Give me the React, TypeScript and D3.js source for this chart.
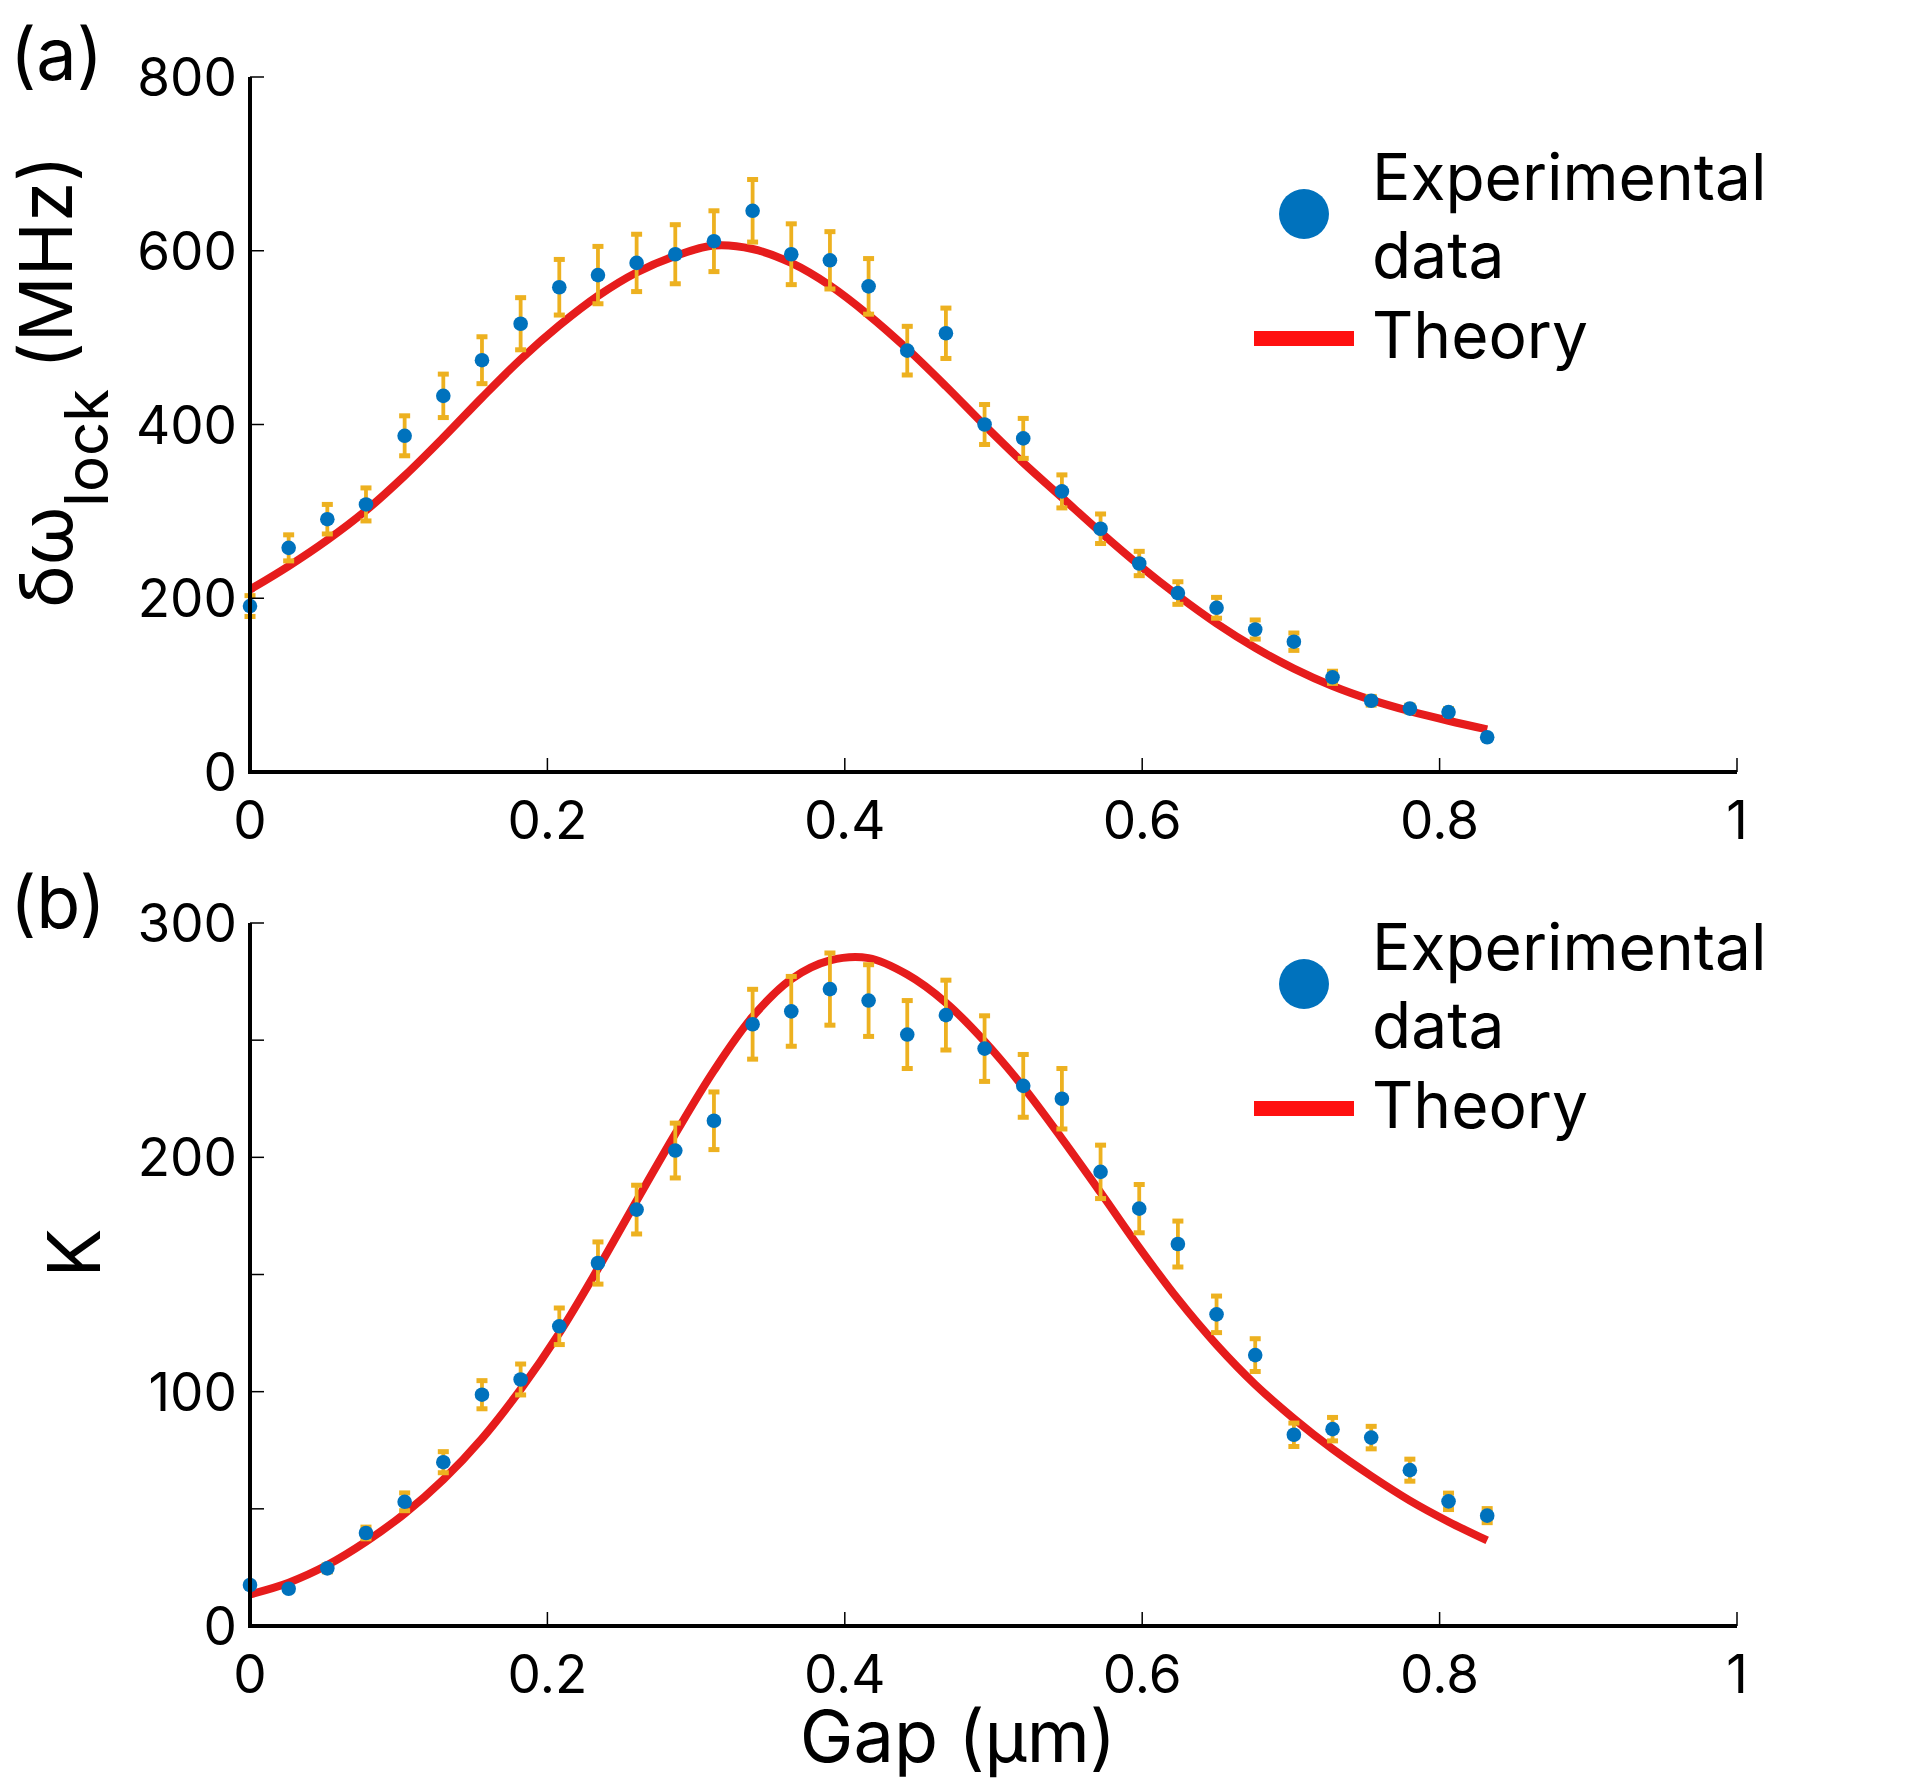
import React from "react";
import * as d3 from "d3";

const gap = [0, 0.026, 0.052, 0.078, 0.104, 0.13, 0.156, 0.182, 0.208, 0.234, 0.26, 0.286, 0.312, 0.338, 0.364, 0.39, 0.416, 0.442, 0.468, 0.494, 0.52, 0.546, 0.572, 0.598, 0.624, 0.65, 0.676, 0.702, 0.728, 0.754, 0.78, 0.806, 0.832];

const expA = [191, 258, 291, 308, 387, 433, 474, 516, 558, 572, 586, 596, 611, 646, 596, 589, 559, 485, 505, 400, 384, 323, 280, 240, 206, 189, 164, 150, 109, 82, 73, 69, 40];
const errA = [12, 15, 17, 19, 23, 25, 27, 30, 32, 33, 33, 34, 35, 36, 35, 33, 32, 28, 29, 23, 23, 19, 17, 14, 13, 12, 11, 10, 7, 5, 4, 4, 2];
const theoryA = [210, 237, 267, 301, 341, 385, 431, 475, 514, 548, 575, 594, 606, 602, 586, 560, 526, 487, 444, 399, 356, 316, 276, 238, 203, 171, 143, 119, 99, 83, 70, 59, 49];

const expB = [17.5, 15.9, 24.6, 39.7, 53.0, 69.9, 98.7, 105.2, 127.9, 154.9, 177.7, 202.9, 215.6, 256.8, 262.3, 271.8, 266.9, 252.4, 260.7, 246.4, 230.5, 225.0, 193.8, 178.1, 163.0, 133.0, 115.6, 81.6, 84.0, 80.4, 66.5, 53.2, 47.1];
const errB = [1, 1, 1.5, 2.5, 3.8, 4.5, 6, 6.6, 7.8, 9, 10.4, 11.7, 12.3, 14.9, 14.9, 15.4, 15.3, 14.5, 14.9, 14, 13.4, 12.9, 11.4, 10.3, 9.8, 7.8, 7, 5, 5, 4.8, 4.7, 3.5, 3];
const theoryB = [13.5, 18.5, 26, 36, 48, 62.5, 80, 101, 125, 152.5, 181.5, 210, 237, 260, 276, 284, 285, 278, 266, 249.5, 230, 208, 185, 161.5, 139.5, 120, 103, 88.5, 75.5, 64, 53.5, 44.5, 36.5];

const xTicks = [0, 0.2, 0.4, 0.6, 0.8, 1];
const xTickLabels = ["0", "0.2", "0.4", "0.6", "0.8", "1"];
const yTicksA = [0, 200, 400, 600, 800];
const yTicksB = [0, 50, 100, 150, 200, 250, 300];
const yLabelsB = [0, 100, 200, 300];

const legendLabels = ["Experimental", "data", "Theory"];

const FONT = "Inter, 'Noto Sans', sans-serif";
const BLUE = "#0072BD";
const ORANGE = "#EDB120";
const RED = "#E61C1C";
const LEGEND_RED = "#FF1010";

type PanelProps = {
  top: number;
  bottom: number;
  yMax: number;
  yTicks: number[];
  yLabels: number[];
  exp: number[];
  err: number[];
  theory: number[];
  legendDy: number;
};

const x = d3.scaleLinear().domain([0, 1]).range([250, 1737]);

function Panel({ top, bottom, yMax, yTicks, yLabels, exp, err, theory, legendDy }: PanelProps) {
  const y = d3.scaleLinear().domain([0, yMax]).range([bottom, top]);
  const line = d3
    .line<number>()
    .x((_, i) => x(gap[i]))
    .y((d) => y(d))
    .curve(d3.curveCatmullRom.alpha(0.5));
  const tickLen = 14;
  return (
    <g>
      {/* theory */}
      <path d={line(theory) || ""} fill="none" stroke={RED} strokeWidth={8} />
      {/* error bars */}
      {exp.map((v, i) => {
        const cx = x(gap[i]);
        const y1 = y(v - err[i]);
        const y2 = y(v + err[i]);
        return (
          <g key={"e" + i} fill={ORANGE}>
            <line x1={cx} x2={cx} y1={y1} y2={y2} stroke={ORANGE} strokeWidth={3.8} />
            <rect x={cx - 5.5} y={y1 - 2.5} width={11} height={5} />
            <rect x={cx - 5.5} y={y2 - 2.5} width={11} height={5} />
          </g>
        );
      })}
      {/* points */}
      {exp.map((v, i) => (
        <circle key={"p" + i} cx={x(gap[i])} cy={y(v)} r={7.3} fill={BLUE} />
      ))}
      {/* axes */}
      <line x1={250} x2={250} y1={top} y2={bottom} stroke="#000" strokeWidth={4} />
      <line x1={248} x2={1737} y1={bottom} y2={bottom} stroke="#000" strokeWidth={4} />
      {yTicks.map((t) => (
        <line key={"yt" + t} x1={250} x2={250 + tickLen} y1={y(t)} y2={y(t)} stroke="#000" strokeWidth={1.5} />
      ))}
      {xTicks.map((t) => (
        <line key={"xt" + t} x1={x(t)} x2={x(t)} y1={bottom} y2={bottom - tickLen} stroke="#000" strokeWidth={1.5} />
      ))}
      {yLabels.map((t) => (
        <text key={"yl" + t} x={237} y={y(t)} dy="0.36em" textAnchor="end" fontSize={53} fontFamily={FONT} fill="#000">
          {t}
        </text>
      ))}
      {xTicks.map((t, i) => (
        <text key={"xl" + t} x={x(t)} y={bottom + 67} textAnchor="middle" fontSize={53} fontFamily={FONT} fill="#000">
          {xTickLabels[i]}
        </text>
      ))}
      {/* legend */}
      <circle cx={1304} cy={214 + legendDy} r={25} fill={BLUE} />
      <line x1={1254} x2={1354} y1={338.5 + legendDy} y2={338.5 + legendDy} stroke={LEGEND_RED} strokeWidth={15} />
      {legendLabels.map((s, i) => (
        <text key={s} x={1372} y={[200, 278, 358][i] + legendDy} fontSize={64} fontFamily={FONT} fill="#000">
          {s}
        </text>
      ))}
    </g>
  );
}

export default function App() {
  return (
    <svg
      width={1920}
      height={1779}
      viewBox="0 0 1920 1779"
      style={{ position: "absolute", left: 0, top: 0, background: "#fff" }}
    >
      <rect width={1920} height={1779} fill="#fff" />
      <Panel top={77} bottom={772} yMax={800} yTicks={yTicksA} yLabels={yTicksA} exp={expA} err={errA} theory={theoryA} legendDy={0} />
      <Panel top={923} bottom={1626} yMax={300} yTicks={yTicksB} yLabels={yLabelsB} exp={expB} err={errB} theory={theoryB} legendDy={770} />
      {/* panel labels */}
      <text x={10} y={80} fontSize={72} fontFamily={FONT} fill="#000">(a)</text>
      <text x={10} y={928} fontSize={72} fontFamily={FONT} fill="#000">(b)</text>
      {/* y label a */}
      <text transform="translate(72,608) rotate(-90)" fontSize={73} fontFamily={FONT} fill="#000">
        <tspan>δω</tspan>
        <tspan fontSize={60} dy={36}>lock</tspan>
        <tspan dy={-36} dx={20}>(MHz)</tspan>
      </text>
      {/* y label b */}
      <text transform="translate(100,1253) rotate(-90)" textAnchor="middle" fontSize={73} fontFamily={FONT} fill="#000">
        K
      </text>
      {/* x label */}
      <text x={958} y={1762} textAnchor="middle" fontSize={72} fontFamily={FONT} fill="#000">
        Gap (μm)
      </text>
    </svg>
  );
}
